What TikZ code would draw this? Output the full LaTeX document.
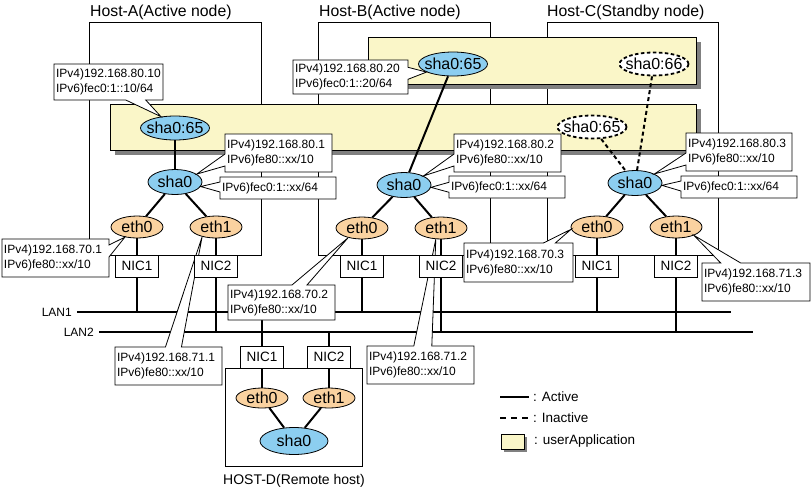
\documentclass[tikz,border=0pt]{standalone}
\usepackage{fontspec}
\setmainfont{Liberation Sans}
\usetikzlibrary{shapes.geometric,shapes.callouts}
\pgfdeclarelayer{front}
\pgfsetlayers{main,front}
\definecolor{shablue}{RGB}{140,206,240}
\definecolor{ethorange}{RGB}{250,210,160}
\definecolor{appyellow}{RGB}{250,246,200}
\definecolor{shadowgray}{RGB}{128,128,128}
\newcommand\zbx[1]{\makebox[0pt]{#1}}
\begin{document}
\begin{tikzpicture}[x=1pt,y=-1pt,
  hostbox/.style={draw,line width=1pt,inner sep=0pt},
  hosttitle/.style={anchor=base west,inner sep=0pt,font=\fontsize{15.8}{18}\selectfont},
  app/.style={draw,line width=1pt,fill=appyellow,inner sep=0pt},
  sha/.style={ellipse,draw,line width=0.8pt,fill=shablue,minimum width=54pt,minimum height=25pt,inner sep=0pt,font=\fontsize{16}{16}\selectfont},
  vsha/.style={sha,minimum width=69pt,minimum height=24pt},
  vidle/.style={ellipse,draw,line width=1.8pt,dash pattern=on 3.5pt off 2.5pt,fill=white,minimum width=69pt,minimum height=23pt,inner sep=0pt,font=\fontsize{16}{16}\selectfont},
  eth/.style={ellipse,draw,line width=0.8pt,fill=ethorange,minimum width=52pt,minimum height=22pt,inner sep=0pt,font=\fontsize{16}{16}\selectfont},
  nic/.style={rectangle,draw,line width=1pt,fill=white,minimum width=43pt,minimum height=22pt,inner sep=0pt,font=\fontsize{13.5}{14}\selectfont},
  wire/.style={line width=2pt},
  idlewire/.style={line width=2pt,dash pattern=on 4pt off 3pt},
  lanline/.style={line width=2pt},
  lbl/.style={inner sep=0pt,font=\fontsize{12}{14}\selectfont},
  legendtext/.style={anchor=west,inner sep=0pt,font=\fontsize{13.5}{16}\selectfont},
  addr/.style={rectangle callout,draw,line width=0.8pt,fill=white,align=left,inner xsep=2pt,inner ysep=0pt,font=\fontsize{12}{15}\selectfont,callout pointer width=12pt},
]
\useasboundingbox (0,0) rectangle (811,491);

% hosts
\node[hostbox,minimum width=172pt,minimum height=233pt] (hostA) at (175,138.5) {};
\node[hostbox,minimum width=172pt,minimum height=233pt] (hostB) at (404,138.5) {};
\node[hostbox,minimum width=171pt,minimum height=233pt] (hostC) at (632.5,138.5) {};
\node[hosttitle] (titleA) at (90,16) {Host-A(Active node)};
\node[hosttitle] (titleB) at (319,16) {Host-B(Active node)};
\node[hosttitle] (titleC) at (547,16) {Host-C(Standby node)};

% userApplication areas
\fill[shadowgray] (373,42) rectangle (701,89);
\node[app,minimum width=328pt,minimum height=47pt] (appU) at (532,60.5) {};
\fill[shadowgray] (115,109) rectangle (701,155);
\node[app,minimum width=586pt,minimum height=46pt] (appL) at (403,127) {};

% interfaces
\node[vsha] (vA) at (175,128) {\zbx{sha0:65}};
\node[vsha] (vB) at (453,64) {\zbx{sha0:65}};
\node[vidle] (vC66) at (654,64) {\zbx{sha0:66}};
\node[vidle] (vC65) at (592,127) {\zbx{sha0:65}};
\node[sha] (shaA) at (175,182) {\zbx{sha0}};
\node[sha] (shaB) at (404,185) {\zbx{sha0}};
\node[sha] (shaC) at (635,183) {\zbx{sha0}};
\node[eth] (ethA0) at (137,227) {\zbx{eth0}};
\node[eth] (ethA1) at (216,227) {\zbx{eth1}};
\node[eth] (ethB0) at (362,228) {\zbx{eth0}};
\node[eth] (ethB1) at (441,228) {\zbx{eth1}};
\node[eth] (ethC0) at (597,227) {\zbx{eth0}};
\node[eth] (ethC1) at (676,227) {\zbx{eth1}};

% Host-D
\node[hostbox,minimum width=137pt,minimum height=98pt] (hostD) at (293.5,417) {};
\node[inner sep=0pt,font=\fontsize{14}{16}\selectfont] (titleD) at (294,481) {HOST-D(Remote host)};
\node[eth,minimum height=20pt] (ethD0) at (262,398) {\zbx{eth0}};
\node[eth,minimum height=20pt] (ethD1) at (329,398) {\zbx{eth1}};
\node[sha,minimum width=68pt,minimum height=27pt] (shaD) at (294,441) {\zbx{sha0}};

% NICs
\begin{pgfonlayer}{front}
\node[nic] (nicA1) at (137,266) {NIC1};
\node[nic] (nicA2) at (216,266) {NIC2};
\node[nic] (nicB1) at (362,266) {NIC1};
\node[nic] (nicB2) at (441,266) {NIC2};
\node[nic] (nicC1) at (597,266) {NIC1};
\node[nic] (nicC2) at (676,266) {NIC2};
\node[nic] (nicD1) at (262,357) {NIC1};
\node[nic] (nicD2) at (329,357) {NIC2};
\end{pgfonlayer}

% LANs
\coordinate (lan1w) at (77,312);
\coordinate (lan1e) at (731,312);
\coordinate (lan2w) at (99,332);
\coordinate (lan2e) at (753,332);
\draw[lanline] (lan1w) -- (lan1e);
\draw[lanline] (lan2w) -- (lan2e);
\node[lbl,anchor=east] (lan1t) at (72,312) {LAN1};
\node[lbl,anchor=east] (lan2t) at (94,332) {LAN2};

% connectors
\draw[wire] (vA) -- (shaA);
\draw[wire] (vB) -- (shaB);
\draw[idlewire] (vC66) -- (shaC);
\draw[idlewire] (vC65) -- (shaC);
\foreach \h in {A,B,C}{
  \draw[wire] (sha\h) -- (eth\h0);
  \draw[wire] (sha\h) -- (eth\h1);
  \draw[wire] (eth\h0) -- (nic\h1);
  \draw[wire] (eth\h1) -- (nic\h2);
  \draw[wire] (nic\h1.south) -- (nic\h1.south |- lan1w);
  \draw[wire] (nic\h2.south) -- (nic\h2.south |- lan2w);
}
\draw[wire] (nicD1.north) -- (nicD1.north |- lan1w);
\draw[wire] (nicD2.north) -- (nicD2.north |- lan2w);
\draw[wire] (nicD1) -- (ethD0);
\draw[wire] (nicD2) -- (ethD1);
\draw[wire] (ethD0) -- (shaD);
\draw[wire] (ethD1) -- (shaD);

% address callouts
\node[addr,text width=105pt,minimum height=36pt,callout pointer width=20pt,callout absolute pointer={(vA.141)}] (cA1) at (108.5,82) {IPv4)192.168.80.10\\IPv6)fec0:1::10/64};
\node[addr,text width=103pt,minimum height=38pt,callout absolute pointer={(shaA.20)}] (cA2) at (278.5,153) {IPv4)192.168.80.1\\IPv6)fe80::xx/10};
\node[addr,text width=112pt,minimum height=22pt,callout pointer width=10pt,callout absolute pointer={(shaA.-10)}] (cA3) at (278,188) {IPv6)fec0:1::xx/64};
\node[addr,text width=103pt,minimum height=38pt,callout absolute pointer={(ethA0.220)}] (cA4) at (55.5,258) {IPv4)192.168.70.1\\IPv6)fe80::xx/10};
\node[addr,text width=103pt,minimum height=38pt,callout pointer width=16pt,callout absolute pointer={(ethA1.215)}] (cA5) at (168.5,366) {IPv4)192.168.71.1\\IPv6)fe80::xx/10};
\node[addr,text width=111pt,minimum height=34pt,callout absolute pointer={(vB.197)}] (cB1) at (350.5,77) {IPv4)192.168.80.20\\IPv6)fec0:1::20/64};
\node[addr,text width=103pt,minimum height=38pt,callout absolute pointer={(shaB.25)}] (cB2) at (507.5,153) {IPv4)192.168.80.2\\IPv6)fe80::xx/10};
\node[addr,text width=112pt,minimum height=22pt,callout pointer width=10pt,callout absolute pointer={(shaB.-5)}] (cB3) at (507,187) {IPv6)fec0:1::xx/64};
\node[addr,text width=103pt,minimum height=35pt,callout pointer width=15pt,callout absolute pointer={(ethB0.215)}] (cB4) at (281.5,302.5) {IPv4)192.168.70.2\\IPv6)fe80::xx/10};
\node[addr,text width=103pt,minimum height=38pt,callout pointer width=18pt,callout absolute pointer={(ethB1.245)}] (cB5) at (420.5,365) {IPv4)192.168.71.2\\IPv6)fe80::xx/10};
\node[addr,text width=102pt,minimum height=38pt,callout absolute pointer={(shaC.25)}] (cC1) at (739,152) {IPv4)192.168.80.3\\IPv6)fe80::xx/10};
\node[addr,text width=112pt,minimum height=22pt,callout pointer width=10pt,callout absolute pointer={(shaC.-5)}] (cC2) at (739,187) {IPv6)fec0:1::xx/64};
\node[addr,text width=105pt,minimum height=39pt,callout absolute pointer={(ethC0.185)}] (cC3) at (518.5,262.5) {IPv4)192.168.70.3\\IPv6)fe80::xx/10};
\node[addr,text width=104pt,minimum height=38pt,callout pointer width=20pt,callout absolute pointer={(ethC1.-25)}] (cC4) at (756,282) {IPv4)192.168.71.3\\IPv6)fe80::xx/10};

% legend
\coordinate (lgA1) at (500,397);
\coordinate (lgA2) at (529,397);
\draw[wire] (lgA1) -- (lgA2);
\node[legendtext] (lgAt) at (533,397) {: Active};
\coordinate (lgI1) at (500,418);
\coordinate (lgI2) at (529,418);
\draw[line width=2pt,dash pattern=on 6pt off 5pt] (lgI1) -- (lgI2);
\node[legendtext] (lgIt) at (533,418) {: Inactive};
\fill[shadowgray] (503.5,436.5) rectangle (526.5,451.5);
\node[app,minimum width=23pt,minimum height=15pt] (lgU) at (512.5,441.5) {};
\node[legendtext] (lgUt) at (534,441) {: userApplication};
\end{tikzpicture}
\end{document}
